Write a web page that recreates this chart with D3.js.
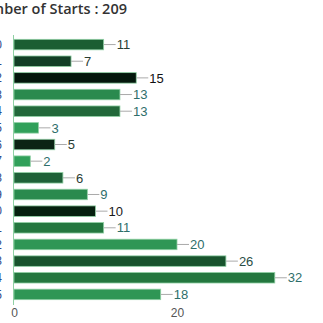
<!DOCTYPE html>
<html>
<head>
<meta charset="utf-8">
<script src="https://cdn.jsdelivr.net/npm/d3@7"></script>
<style>
  html, body { margin: 0; padding: 0; background: #fff; overflow: hidden; }
</style>
</head>
<body>
<div id="chart"></div>
<script>
// data
const categories = ['2000', '2001', '2002', '2003', '2004', '2005', '2006', '2007',
                    '2008', '2009', '2010', '2011', '2012', '2013', '2014', '2015'];
const starts = [11, 7, 15, 13, 13, 3, 5, 2, 6, 9, 10, 11, 20, 26, 32, 18];
const barColors = ['#1b5e32', '#133f26', '#04170c', '#2a8a4e', '#22683a', '#31a05a', '#0b2414', '#31a05a',
                   '#1f6138', '#2a8a4e', '#06200f', '#24773f', '#2f9655', '#18532d', '#24773f', '#2f9655'];
const labelColors = ['#2a3d33', '#2a3d33', '#111', '#2e6e6a', '#2e6e6a', '#2e6e6a', '#2a3d33', '#2e6e6a',
                     '#2a3d33', '#2e6e6a', '#1a1a1a', '#2e6e6a', '#2e6e6a', '#2a4d45', '#2e6e6a', '#2e6e6a'];
const xTicks = [0, 20];
const total = 209;

const width = 323, height = 323;
const svg = d3.select('#chart').append('svg')
    .attr('width', width)
    .attr('height', height)
    .style('display', 'block');

// title, cut off on the left like the reference
svg.append('text')
    .attr('x', 127)
    .attr('y', 14)
    .attr('text-anchor', 'end')
    .attr('font-family', 'Open Sans, sans-serif')
    .attr('font-weight', 600)
    .attr('font-size', '14.5px')
    .attr('fill', '#333')
    .text(`Number of Starts : ${total}`);

const x = d3.scaleLinear().domain([0, 20]).range([14, 177]);
const y = d3.scaleBand().domain(categories).range([36, 303]).paddingInner(0.37).paddingOuter(0.2);

// bottom axis: labels only
const xAxis = svg.append('g')
    .attr('transform', 'translate(0,305)')
    .call(d3.axisBottom(x).tickValues(xTicks).tickSize(0).tickPadding(3));
xAxis.select('.domain').remove();
xAxis.selectAll('text')
    .attr('font-family', 'Liberation Sans, Arial, sans-serif')
    .attr('font-size', '12px')
    .attr('fill', '#555');

// category labels (mostly off screen)
svg.append('g').selectAll('text')
    .data(categories)
    .join('text')
    .attr('x', 2)
    .attr('y', d => y(d) + y.bandwidth() / 2)
    .attr('dy', '0.35em')
    .attr('text-anchor', 'end')
    .attr('font-family', 'Liberation Sans, Arial, sans-serif')
    .attr('font-size', '12px')
    .attr('fill', '#2b4a8b')
    .text(d => d);

// bars
svg.append('g').selectAll('rect')
    .data(starts)
    .join('rect')
    .attr('x', x(0))
    .attr('y', (d, i) => y(categories[i]))
    .attr('width', d => x(d) - x(0))
    .attr('height', y.bandwidth())
    .attr('fill', (d, i) => barColors[i])
    .attr('stroke', '#8fd0a4')
    .attr('stroke-width', 0.8);

// leader lines and value labels
const lab = svg.append('g');
lab.selectAll('line')
    .data(starts)
    .join('line')
    .attr('x1', d => x(d))
    .attr('x2', d => x(d) + 12)
    .attr('y1', (d, i) => y(categories[i]) + y.bandwidth() / 2)
    .attr('y2', (d, i) => y(categories[i]) + y.bandwidth() / 2)
    .attr('stroke', '#aaa')
    .attr('stroke-width', 1);
lab.selectAll('text')
    .data(starts)
    .join('text')
    .attr('x', d => x(d) + 13)
    .attr('y', (d, i) => y(categories[i]) + y.bandwidth() / 2)
    .attr('dy', '0.36em')
    .attr('font-family', 'Liberation Sans, Arial, sans-serif')
    .attr('font-size', '13px')
    .attr('fill', (d, i) => labelColors[i])
    .text(d => d);

// y axis line
svg.append('line')
    .attr('x1', 13.5).attr('x2', 13.5)
    .attr('y1', 35).attr('y2', 305)
    .attr('stroke', '#8fd0a4')
    .attr('stroke-width', 1);
</script>
</body>
</html>
